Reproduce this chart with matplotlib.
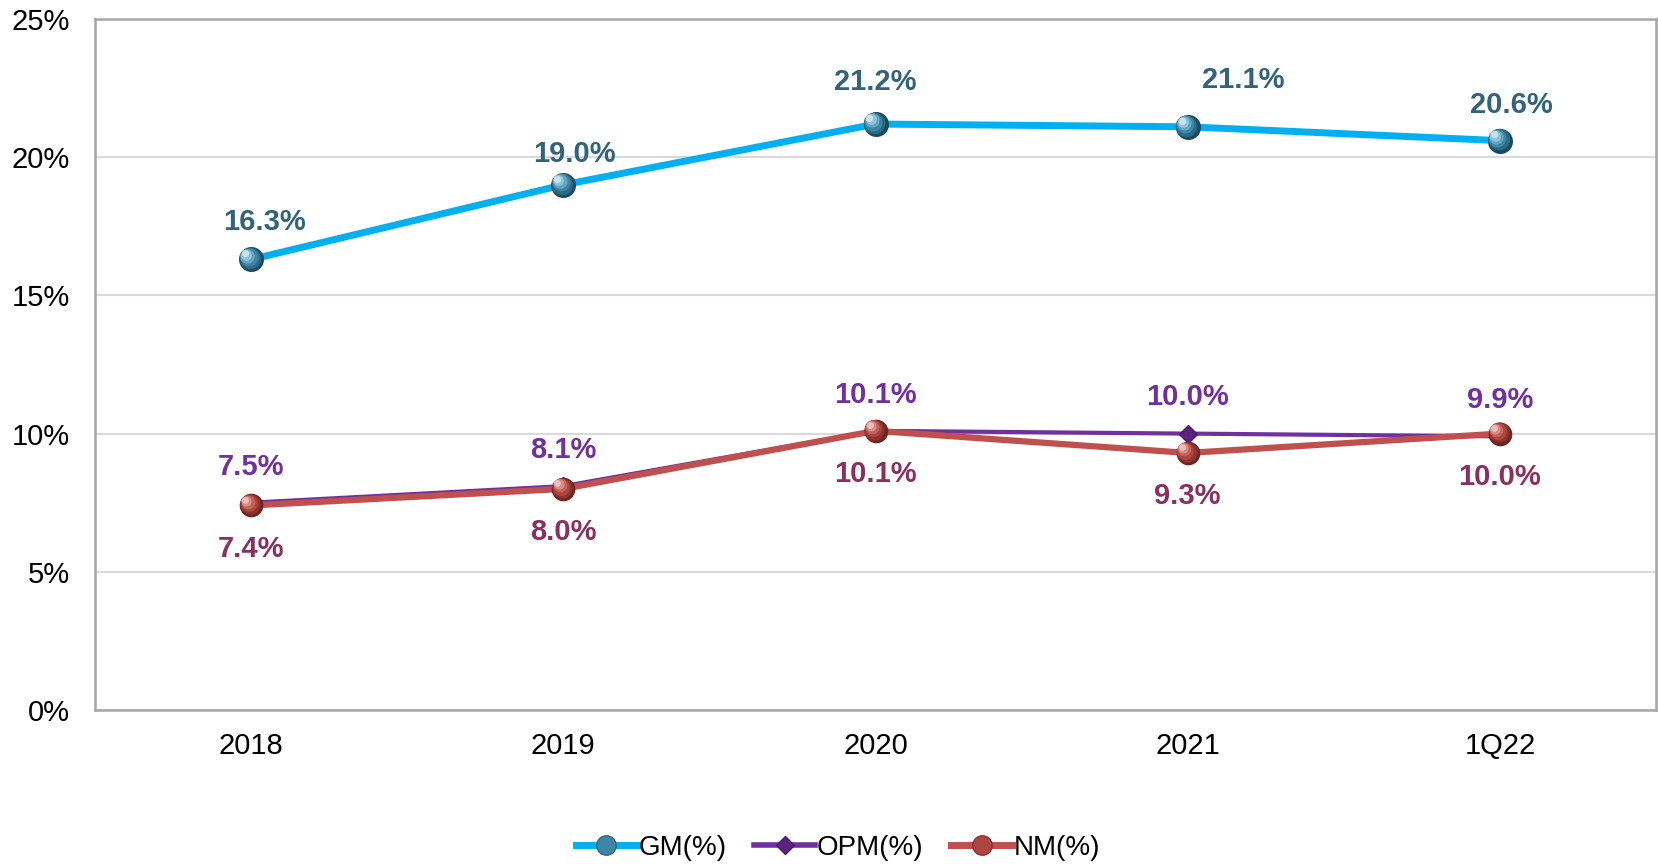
import matplotlib
matplotlib.use("Agg")
import matplotlib.pyplot as plt
import matplotlib.transforms as mtransforms
from matplotlib.lines import Line2D

categories = ["2018", "2019", "2020", "2021", "1Q22"]
gm = [16.3, 19.0, 21.2, 21.1, 20.6]
opm = [7.5, 8.1, 10.1, 10.0, 9.9]
nm = [7.4, 8.0, 10.1, 9.3, 10.0]
yticks = [0, 5, 10, 15, 20, 25]

plt.rcParams['font.family'] = ['Liberation Sans', 'DejaVu Sans']

W, H = 1659, 866
fig = plt.figure(figsize=(W / 100, H / 100), dpi=100)
ax = fig.add_axes([95 / W, 1 - 710 / H, (1656 - 95) / W, (710 - 19) / H])

x = list(range(len(categories)))

gm_c, opm_c, nm_c = "#00B0F0", "#7030A0", "#C0504D"

# lines
ax.plot(x, gm, color=gm_c, lw=5, zorder=3, solid_capstyle='round')
ax.plot(x, opm, color=opm_c, lw=3, zorder=3)
ax.plot(x, nm, color=nm_c, lw=4.5, zorder=4)

# spherical markers: layered circles shifted toward upper-left
def sphere(xs, ys, shades, size, z):
    n = len(shades)
    for i, c in enumerate(shades):
        frac = 1 - i / n * 0.85
        shift = (size * (1 - frac)) * 0.35
        tr = mtransforms.offset_copy(ax.transData, fig=fig, x=-shift, y=shift, units='points')
        ax.plot(xs, ys, ls='none', marker='o', ms=size * frac, mfc=c, mec='none',
                transform=tr, zorder=z + i * 0.01)

gm_shades = ["#1A4A60", "#2B6A86", "#3F86A6", "#62A5C2", "#8CC3DA", "#C4E2EE"]
nm_shades = ["#6E2420", "#8E322D", "#AD4540", "#C4625C", "#D88A84", "#EDBDB9"]
sphere(x, gm, gm_shades, 18, 5)
ax.plot(x, opm, ls='none', marker='D', ms=9, mfc="#5A2380", mec="#4A1A6A", zorder=5)
sphere(x, nm, nm_shades, 17, 6)

# data labels
gm_off = [(10, 27), (8, 22), (0, 30), (40, 34), (8, 26)]
for xi, v, off in zip(x, gm, gm_off):
    ax.annotate(f"{v:.1f}%", (xi, v), xytext=off, textcoords='offset points',
                ha='center', va='center', fontsize=21, fontweight='bold', color="#31637A")
for xi, v in zip(x, opm):
    ax.annotate(f"{v:.1f}%", (xi, v), xytext=(0, 26), textcoords='offset points',
                ha='center', va='center', fontsize=21, fontweight='bold', color="#7030A0")
for xi, v in zip(x, nm):
    ax.annotate(f"{v:.1f}%", (xi, v), xytext=(0, -31), textcoords='offset points',
                ha='center', va='center', fontsize=21, fontweight='bold', color="#8B2F5E")

ax.set_xlim(-0.5, len(categories) - 0.5)
ax.set_ylim(0, 25)
ax.set_yticks(yticks)
ax.set_yticklabels([f"{t}%" for t in yticks])
ax.set_xticks(x)
ax.set_xticklabels(categories)
ax.tick_params(axis='both', length=0, labelsize=21, colors='black')
ax.tick_params(axis='y', pad=18)
ax.tick_params(axis='x', pad=16)
ax.yaxis.grid(True, color="#D9D9D9", lw=1.5)
ax.set_axisbelow(True)
for s in ax.spines.values():
    s.set_color("#A6A6A6")
    s.set_linewidth(1.8)

# legend
handles = [
    Line2D([], [], color=gm_c, lw=5, marker='o', ms=14, mfc="#3F86A6", mec="#2B6A86"),
    Line2D([], [], color=opm_c, lw=4, marker='D', ms=9, mfc="#5A2380", mec="#4A1A6A"),
    Line2D([], [], color=nm_c, lw=5, marker='o', ms=14, mfc="#AD4540", mec="#8E322D"),
]
fig.legend(handles, ["GM(%)", "OPM(%)", "NM(%)"], loc='center',
           bbox_to_anchor=(838 / W, 1 - 848 / H), ncol=3, frameon=False,
           fontsize=20, handlelength=2.2, handletextpad=0.05, columnspacing=1.0)

fig.savefig("out.png", dpi=100)
